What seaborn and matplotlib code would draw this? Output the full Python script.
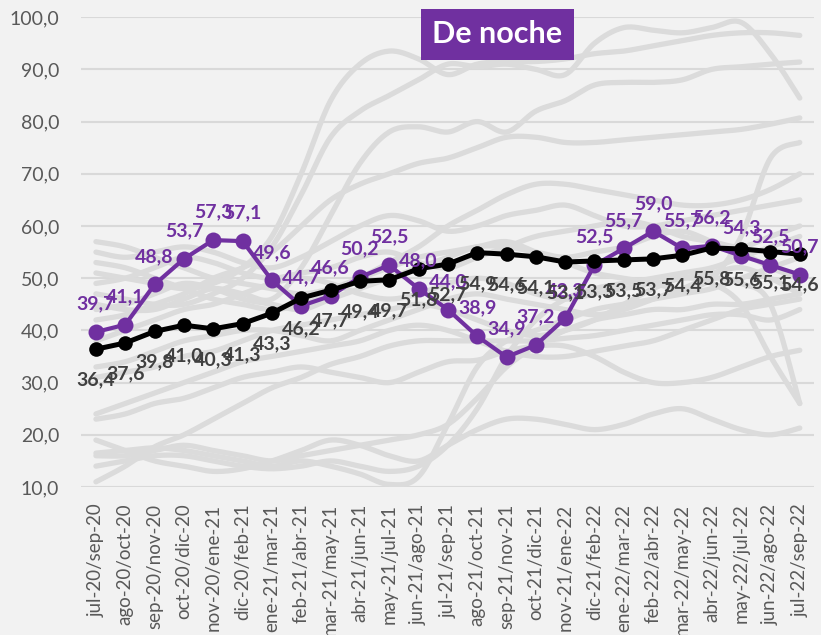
import numpy as np
import pandas as pd
import matplotlib
matplotlib.use("Agg")
import matplotlib.pyplot as plt
import seaborn as sns

periods = [
    "jul-20/sep-20", "ago-20/oct-20", "sep-20/nov-20", "oct-20/dic-20", "nov-20/ene-21",
    "dic-20/feb-21", "ene-21/mar-21", "feb-21/abr-21", "mar-21/may-21", "abr-21/jun-21",
    "may-21/jul-21", "jun-21/ago-21", "jul-21/sep-21", "ago-21/oct-21", "sep-21/nov-21",
    "oct-21/dic-21", "nov-21/ene-22", "dic-21/feb-22", "ene-22/mar-22", "feb-22/abr-22",
    "mar-22/may-22", "abr-22/jun-22", "may-22/jul-22", "jun-22/ago-22", "jul-22/sep-22",
]

highlight = [39.7, 41.1, 48.8, 53.7, 57.3, 57.1, 49.6, 44.7, 46.6, 50.2, 52.5, 48.0, 44.0,
             38.9, 34.9, 37.2, 42.3, 52.5, 55.7, 59.0, 55.7, 56.2, 54.3, 52.5, 50.7]
average = [36.4, 37.6, 39.8, 41.0, 40.3, 41.3, 43.3, 46.2, 47.7, 49.4, 49.7, 51.8, 52.7,
           54.9, 54.6, 54.1, 53.1, 53.3, 53.5, 53.7, 54.4, 55.8, 55.6, 55.1, 54.6]

# other regions, drawn as a faint background
others = {
    "r01": [51, 50, 49, 48, 49, 52, 58, 70, 84, 91, 93.5, 92, 89, 91, 91.5, 91.5, 92, 93, 93.5, 94.5, 95.5, 96.5, 97, 97, 96.5],
    "r02": [47, 46, 45, 45, 47, 50, 56, 66, 77, 82, 85, 88, 91, 90.5, 91, 90, 89, 95, 98, 97.5, 97, 98, 99, 93, 84.5],
    "r03": [45, 44, 44, 46, 48, 47, 46, 52, 62, 72, 78, 79, 78, 80, 78, 82, 84, 87, 87.5, 87.5, 88, 90, 90.5, 91, 91.4],
    "r04": [42, 43, 45, 47, 50, 52, 55, 60, 65, 68, 70, 72, 73, 75, 77, 77, 76, 76, 76.5, 77, 77.5, 78, 78.5, 79.5, 80.7],
    "r05": [57, 56, 54, 52, 50, 49, 48, 47, 48, 50, 52, 54, 55, 56, 57, 55, 53, 51, 50, 49, 48, 50, 58, 73, 76],
    "r06": [53, 52, 50, 48, 46, 45, 44, 45, 47, 50, 53, 56, 60, 63, 66, 68, 68, 67, 66, 65, 64, 64, 65, 67, 70],
    "r07": [55, 54, 55, 56, 55, 53, 52, 54, 57, 60, 62, 61, 59, 60, 62, 63, 64, 62, 60, 60, 61, 62, 63, 64, 65],
    "r08": [49, 50, 52, 54, 53, 51, 50, 51, 52, 54, 55, 53, 52, 54, 56, 58, 59, 60, 61, 60, 58, 57, 56, 58, 60],
    "r09": [44, 45, 47, 49, 48, 46, 45, 44, 46, 48, 50, 52, 54, 56, 56, 55, 54, 55, 56, 58, 59, 57, 55, 52, 50],
    "r10": [38, 40, 42, 44, 45, 47, 49, 50, 49, 47, 46, 47, 49, 50, 49, 47, 46, 47, 48, 49, 50, 51, 52, 50, 47],
    "r11": [33, 34, 36, 38, 39, 40, 40, 39, 38, 40, 42, 44, 46, 47, 46, 45, 44, 43, 44, 46, 48, 50, 49, 45, 26],
    "r12": [31, 32, 33, 35, 36, 38, 40, 41, 42, 43, 44, 45, 44, 42, 40, 39, 40, 42, 45, 48, 50, 49, 45, 35, 26],
    "r13": [24, 26, 28, 30, 32, 34, 35, 36, 37, 38, 40, 41, 40, 38, 36, 35, 35, 36, 37, 38, 40, 42, 44, 45, 46],
    "r14": [23, 24, 26, 27, 29, 31, 32, 33, 32, 31, 30, 32, 34, 34.3, 36, 37, 37, 35, 32, 30, 30, 31, 33, 35, 36.2],
    "r15": [19, 17, 15, 14, 13, 13.5, 15, 17, 19, 18, 16, 15, 18, 21, 23, 23, 22, 21, 22, 24, 25, 23, 21, 20, 21.3],
    "r16": [16.5, 17, 17.5, 17, 16, 15, 14, 15, 14, 12.5, 10.5, 12, 22, 33, 38, 40, 42, 44, 45, 46, 47, 48, 50, 52, 54],
    "r17": [16, 16, 17, 18, 17, 16, 15, 16, 17, 18, 19, 20, 22, 27, 33, 37, 40, 42, 43, 44, 44, 45, 45, 46, 47],
    "r18": [14, 15, 16, 16, 15, 14, 13.5, 14, 15, 14, 13, 14, 18, 25, 35, 42, 46, 48, 49, 50, 51, 52, 54, 56, 58],
    "r19": [11, 14, 17.7, 20, 23, 26, 29, 31, 33.5, 35, 37, 38, 38, 38, 38, 38, 38.5, 39, 40, 41, 42, 43, 43, 42, 44],
}

PURPLE = "#7030A0"
GREY = "#DBDBDB"
BG = "#F2F2F2"
TXT = "#595959"


def smooth(y, steps=16):
    """Cubic Bezier smoothing through the points, as spreadsheet 'smoothed lines' do."""
    y = np.asarray(y, dtype=float)
    x = np.arange(len(y), dtype=float)
    pts = np.column_stack([x, y])
    out = [pts[0]]
    t = np.linspace(0, 1, steps + 1)[1:]
    for i in range(len(pts) - 1):
        p0 = pts[max(i - 1, 0)]
        p1 = pts[i]
        p2 = pts[i + 1]
        p3 = pts[min(i + 2, len(pts) - 1)]
        c1 = p1 + (p2 - p0) / 6.0
        c2 = p2 - (p3 - p1) / 6.0
        seg = ((1 - t) ** 3)[:, None] * p1 + (3 * (1 - t) ** 2 * t)[:, None] * c1 \
            + (3 * (1 - t) * t ** 2)[:, None] * c2 + (t ** 3)[:, None] * p2
        out.extend(seg)
    out = np.array(out)
    return out[:, 0], out[:, 1]


sns.set_theme(style="white")
plt.rcParams["font.family"] = ["Lato", "DejaVu Sans"]

fig = plt.figure(figsize=(8.21, 6.35), dpi=100, facecolor=BG)
ax = fig.add_axes([0.099, 0.233, 0.893, 0.740])
ax.set_facecolor(BG)

rows = []
for name, vals in others.items():
    sx, sy = smooth(vals)
    rows.append(pd.DataFrame({"x": sx, "y": sy, "region": name}))
bg = pd.concat(rows, ignore_index=True)
sns.lineplot(data=bg, x="x", y="y", units="region", estimator=None, sort=False,
             color=GREY, lw=3.8, ax=ax, solid_capstyle="round", zorder=2)

idx = np.arange(len(periods))
sns.lineplot(x=idx, y=highlight, color=PURPLE, lw=3.0, marker="o", markersize=11.5,
             markeredgewidth=0, ax=ax, zorder=4)
sns.lineplot(x=idx, y=average, color="black", lw=3.6, marker="o", markersize=10.5,
             markeredgewidth=0, ax=ax, zorder=5)

for i, v in enumerate(highlight):
    ax.annotate(f"{v:.1f}".replace(".", ","), (i, v), xytext=(0, 14), textcoords="offset points",
                ha="center", va="bottom", color=PURPLE, fontsize=14, fontweight="bold", zorder=6)
for i, v in enumerate(average):
    ax.annotate(f"{v:.1f}".replace(".", ","), (i, v), xytext=(0, -16), textcoords="offset points",
                ha="center", va="top", color="#404040", fontsize=14, fontweight="bold", zorder=6)

ax.set_xlim(-0.5, len(periods) - 0.5)
ax.set_ylim(10, 100)
ax.set_yticks(np.arange(10, 101, 10))
ax.set_yticklabels([f"{v:.1f}".replace(".", ",") for v in np.arange(10, 101, 10)],
                   fontsize=14, color=TXT)
ax.set_xticks(idx)
ax.set_xticklabels(periods, rotation=90, fontsize=13.5, color=TXT)
ax.tick_params(axis="y", length=0, pad=16)
ax.tick_params(axis="x", length=0, pad=12)
ax.grid(axis="y", color="#D9D9D9", lw=1.5, zorder=0)
ax.set_axisbelow(True)
for s in ax.spines.values():
    s.set_visible(False)
ax.set_xlabel("")
ax.set_ylabel("")

fig.text(0.606, 0.946, "De noche", ha="center", va="center", color="white",
         fontsize=22, fontweight="bold",
         bbox=dict(boxstyle="square,pad=0.38", fc=PURPLE, ec="none"))

fig.savefig("out.png", dpi=100, facecolor=BG)
